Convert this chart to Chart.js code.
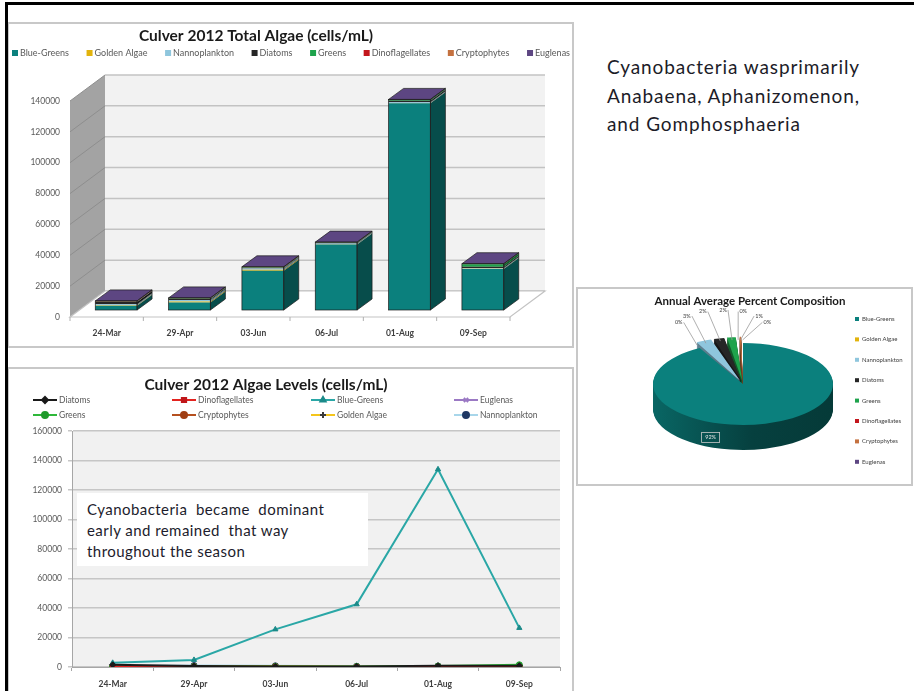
<!DOCTYPE html>
<html>
<head>
<meta charset="utf-8">
<title>Culver 2012 Algae</title>
<script src="https://cdn.jsdelivr.net/npm/chart.js@4.4.1/dist/chart.umd.min.js"></script>
<style>
  html, body { margin: 0; padding: 0; background: #fff; }
  body { position: relative; width: 914px; height: 691px; overflow: hidden; font-family: Lato, "Open Sans", sans-serif; }
  .rule-top { position: absolute; left: 5px; top: 2px; width: 909px; height: 3px; background: #000; }
  .rule-left { position: absolute; left: 5px; top: 2px; width: 3px; height: 689px; background: #000; }
  .panel { position: absolute; box-sizing: border-box; border: 2px solid #c8c8c8; background: #fff; }
  canvas { position: absolute; }
  .note { position: absolute; left: 607px; top: 53px; font-size: 19px; letter-spacing: 0.9px; line-height: 28.5px; color: #1c1c28; white-space: pre; }
  .callout { position: absolute; left: 77px; top: 493px; width: 291px; height: 73px; background: #fff; box-sizing: border-box; padding: 6px 0 0 10px; font-size: 15px; letter-spacing: 0.45px; line-height: 21px; color: #1c1c2c; white-space: pre; }
</style>
</head>
<body>
<div class="panel" style="left:7px; top:22px; width:567px; height:326px;"></div>
<div class="panel" style="left:7px; top:367px; width:567px; height:330px;"></div>
<div class="panel" style="left:576px; top:287px; width:337px; height:199px;"></div>
<canvas id="totalChart" width="563" height="322" style="left:9px; top:24px;"></canvas>
<canvas id="levelsChart" width="563" height="322" style="left:9px; top:369px;"></canvas>
<canvas id="pieChart" width="333" height="230" style="left:578px; top:289px;"></canvas>
<div class="callout">Cyanobacteria  became  dominant
early and remained  that way
throughout the season</div>
<div class="note">Cyanobacteria wasprimarily
Anabaena, Aphanizomenon,
and Gomphosphaeria</div>
<div class="rule-top"></div>
<div class="rule-left"></div>

<script>
// sampling dates
const dates = ['24-Mar', '29-Apr', '03-Jun', '06-Jul', '01-Aug', '09-Sep'];

// cell counts (cells/mL) per group
const blueGreens      = [2800, 4800, 25500, 42500, 134000, 26500];
const goldenAlgae     = [200, 700, 600, 100, 100, 200];
const nannoplankton   = [700, 1000, 800, 500, 600, 500];
const diatoms         = [1500, 600, 400, 400, 900, 900];
const greens          = [200, 300, 300, 300, 600, 1500];
const dinoflagellates = [100, 50, 0, 0, 0, 0];
const cryptophytes    = [400, 400, 400, 200, 300, 400];
const euglenas        = [0, 0, 0, 0, 0, 0];

// annual average percent composition
const pieGroups  = ['Blue-Greens', 'Golden Algae', 'Nannoplankton', 'Diatoms', 'Greens', 'Dinoflagellates', 'Cryptophytes', 'Euglenas'];
const piePercent = [92, 0.3, 2.9, 2.1, 1.8, 0.2, 0.6, 0.1];

const totalTicks = { max: 140000, step: 20000 };
const levelTicks = { max: 160000, step: 20000 };

// ---------- helpers ----------
function shade(hex, f) {
  const n = parseInt(hex.slice(1), 16);
  const r = Math.round(((n >> 16) & 255) * f);
  const g = Math.round(((n >> 8) & 255) * f);
  const b = Math.round((n & 255) * f);
  return 'rgb(' + r + ',' + g + ',' + b + ')';
}

function poly(ctx, pts, fill, stroke, lw) {
  ctx.beginPath();
  ctx.moveTo(pts[0][0], pts[0][1]);
  for (let i = 1; i < pts.length; i++) ctx.lineTo(pts[i][0], pts[i][1]);
  ctx.closePath();
  if (fill) { ctx.fillStyle = fill; ctx.fill(); }
  if (stroke) { ctx.strokeStyle = stroke; ctx.lineWidth = lw || 1; ctx.stroke(); }
}

function boxLegend(ctx, names, colors, left, right, y, size, box) {
  ctx.save();
  ctx.font = size + 'px Lato';
  ctx.textBaseline = 'middle';
  const widths = names.map(n => box + 2 + ctx.measureText(n).width);
  const gap = (right - left - widths.reduce((a, b) => a + b, 0)) / (names.length - 1);
  let x = left;
  names.forEach((n, i) => {
    ctx.fillStyle = colors[i];
    ctx.fillRect(x, y - box / 2, box, box);
    ctx.fillStyle = '#595959';
    ctx.fillText(n, x + box + 2, y);
    x += widths[i] + gap;
  });
  ctx.restore();
}

function chartTitle(ctx, text, cx, cy) {
  ctx.save();
  ctx.font = 'bold 15.5px Lato';
  ctx.fillStyle = '#1a1a1a';
  ctx.textAlign = 'center';
  ctx.textBaseline = 'middle';
  ctx.fillText(text, cx, cy);
  ctx.restore();
}

// ---------- stacked 3-D column chart ----------
const barColors = ['#0b807d', '#e2b30c', '#8fc6dd', '#262626', '#1ea34c', '#c3161c', '#c4713f', '#5d4682'];
const barSeries = [blueGreens, goldenAlgae, nannoplankton, diatoms, greens, dinoflagellates, cryptophytes, euglenas];

const WALL_DX = 35, WALL_DY = 26;     // depth of the floor / back wall
const BAR_SHIFT_X = 9.5, BAR_SHIFT_Y = 7;
const BAR_DX = 15, BAR_DY = 11;       // thickness of a column

const bar3d = {
  id: 'bar3d',
  beforeDatasetsDraw(chart) {
    const { ctx, chartArea: a, scales: { y } } = chart;
    ctx.save();
    // side wall
    poly(ctx, [[a.left, a.top], [a.left + WALL_DX, a.top - WALL_DY], [a.left + WALL_DX, a.bottom - WALL_DY], [a.left, a.bottom]], '#a3a3a3');
    // back wall
    ctx.fillStyle = '#f2f2f2';
    ctx.fillRect(a.left + WALL_DX, a.top - WALL_DY, a.right - a.left, a.bottom - a.top);
    y.ticks.forEach(t => {
      const py = y.getPixelForValue(t.value);
      ctx.strokeStyle = '#c3c3c3';
      ctx.lineWidth = 1.5;
      ctx.beginPath();
      ctx.moveTo(a.left + WALL_DX, py - WALL_DY);
      ctx.lineTo(a.right + WALL_DX, py - WALL_DY);
      ctx.stroke();
      ctx.strokeStyle = '#8e8e8e';
      ctx.lineWidth = 1;
      ctx.beginPath();
      ctx.moveTo(a.left, py);
      ctx.lineTo(a.left + WALL_DX, py - WALL_DY);
      ctx.stroke();
    });
    // floor
    poly(ctx, [[a.left, a.bottom], [a.right, a.bottom], [a.right + WALL_DX, a.bottom - WALL_DY], [a.left + WALL_DX, a.bottom - WALL_DY]], '#ffffff', '#c3c3c3', 1.2);
    // category separators along the front edge
    const n = chart.data.labels.length;
    ctx.strokeStyle = '#b0b0b0';
    ctx.lineWidth = 1;
    for (let i = 0; i <= n; i++) {
      const px = a.left + i * (a.right - a.left) / n;
      ctx.beginPath();
      ctx.moveTo(px, a.bottom);
      ctx.lineTo(px, a.bottom + 4);
      ctx.stroke();
    }
    ctx.restore();
    // columns stand a little behind the front edge
    ctx.save();
    ctx.translate(BAR_SHIFT_X, -BAR_SHIFT_Y);
  },
  afterDatasetsDraw(chart) {
    const ctx = chart.ctx;
    const metas = chart.data.datasets.map((d, i) => chart.getDatasetMeta(i));
    const n = chart.data.labels.length;
    for (let j = 0; j < n; j++) {
      metas.forEach((m, i) => {
        const b = m.data[j];
        if (Math.abs(b.base - b.y) < 0.01) return;
        const r = b.x + b.width / 2;
        poly(ctx, [[r, b.y], [r + BAR_DX, b.y - BAR_DY], [r + BAR_DX, b.base - BAR_DY], [r, b.base]], shade(barColors[i], 0.6));
      });
      const top = metas[metas.length - 1].data[j];
      const bottom = metas[0].data[j].base;
      const l = top.x - top.width / 2, r = top.x + top.width / 2;
      poly(ctx, [[l, top.y], [r, top.y], [r + BAR_DX, top.y - BAR_DY], [l + BAR_DX, top.y - BAR_DY]], barColors[barColors.length - 1], '#1c1c1c', 0.7);
      ctx.strokeStyle = '#1c1c1c';
      ctx.lineWidth = 0.7;
      ctx.strokeRect(l, top.y, r - l, bottom - top.y);
      poly(ctx, [[r, top.y], [r + BAR_DX, top.y - BAR_DY], [r + BAR_DX, bottom - BAR_DY], [r, bottom]], null, '#1c1c1c', 0.7);
    }
    ctx.restore();
  },
  afterDraw(chart) {
    chartTitle(chart.ctx, 'Culver 2012 Total Algae (cells/mL)', 247, 12);
    boxLegend(chart.ctx, pieGroups, barColors, 3, 561, 29, 9, 6);
  }
};

new Chart(document.getElementById('totalChart'), {
  type: 'bar',
  data: {
    labels: dates,
    datasets: barSeries.map((d, i) => ({
      label: pieGroups[i],
      data: d,
      backgroundColor: barColors[i],
      borderWidth: 0,
      barPercentage: 0.57,
      categoryPercentage: 1,
      clip: false
    }))
  },
  options: {
    responsive: false,
    animation: false,
    layout: { padding: { left: 0, right: 62, top: 77, bottom: 0 } },
    plugins: {
      legend: { display: false },
      tooltip: { enabled: false },
      title: { display: false }
    },
    scales: {
      x: {
        stacked: true,
        grid: { display: false, drawTicks: false },
        border: { display: false },
        ticks: { color: '#404040', font: { family: 'Lato', size: 8.5, weight: 'bold' }, padding: 11 },
        afterFit(s) { s.height = 29; }
      },
      y: {
        stacked: true,
        min: 0,
        max: totalTicks.max,
        grid: { display: false, drawTicks: false },
        border: { display: false },
        ticks: { stepSize: totalTicks.step, color: '#595959', font: { family: 'Lato', size: 8.5 }, padding: 10, callback: v => String(v) },
        afterFit(s) { s.width = 61; }
      }
    }
  },
  plugins: [bar3d]
});

// ---------- line chart ----------
const lineSeries = [
  { label: 'Diatoms',         data: diatoms,         color: '#1a1a1a', marker: '#1a1a1a', point: 'rectRot' },
  { label: 'Dinoflagellates', data: dinoflagellates, color: '#e3231f', marker: '#c0161a', point: 'rect' },
  { label: 'Blue-Greens',     data: blueGreens,      color: '#2aa7a6', marker: '#1b8a89', point: 'triangle' },
  { label: 'Euglenas',        data: euglenas,        color: '#9b79c4', marker: '#9b79c4', point: 'crossRot' },
  { label: 'Greens',          data: greens,          color: '#2fb83a', marker: '#1f9a2b', point: 'circle' },
  { label: 'Cryptophytes',    data: cryptophytes,    color: '#b5501f', marker: '#a03f14', point: 'circle' },
  { label: 'Golden Algae',    data: goldenAlgae,     color: '#f4c51c', marker: '#3a3a3a', point: 'cross' },
  { label: 'Nannoplankton',   data: nannoplankton,   color: '#a8d6ea', marker: '#1f3864', point: 'circle' }
];

const LEGEND_COLS = [24, 163, 302, 445];
const LEGEND_ROWS = [31, 46];

const linePlot = {
  id: 'linePlot',
  beforeDraw(chart) {
    const { ctx, chartArea: a } = chart;
    ctx.save();
    ctx.fillStyle = '#f1f1f1';
    ctx.fillRect(a.left, a.top, a.right - a.left, a.bottom - a.top);
    ctx.restore();
  },
  afterDraw(chart) {
    const ctx = chart.ctx;
    chartTitle(ctx, 'Culver 2012 Algae Levels (cells/mL)', 257, 16);
    ctx.save();
    ctx.font = '8.5px Lato';
    ctx.textBaseline = 'middle';
    chart.data.datasets.forEach((ds, i) => {
      const x = LEGEND_COLS[i % 4], y = LEGEND_ROWS[Math.floor(i / 4)];
      ctx.strokeStyle = ds.borderColor;
      ctx.lineWidth = 2;
      ctx.beginPath();
      ctx.moveTo(x, y);
      ctx.lineTo(x + 24, y);
      ctx.stroke();
      ctx.fillStyle = ds.pointBackgroundColor;
      ctx.strokeStyle = ds.pointBorderColor;
      Chart.helpers.drawPoint(ctx, { pointStyle: ds.pointStyle, radius: 3, rotation: 0, borderWidth: 1 }, x + 12, y);
      ctx.fillStyle = '#595959';
      ctx.fillText(ds.label, x + 26, y);
    });
    ctx.restore();
  }
};

new Chart(document.getElementById('levelsChart'), {
  type: 'line',
  data: {
    labels: dates,
    datasets: lineSeries.map(s => ({
      label: s.label,
      data: s.data,
      borderColor: s.color,
      backgroundColor: s.color,
      borderWidth: 2,
      pointStyle: s.point,
      pointRadius: 3,
      pointBackgroundColor: s.marker,
      pointBorderColor: s.marker,
      pointBorderWidth: 1,
      tension: 0
    }))
  },
  options: {
    responsive: false,
    animation: false,
    layout: { padding: { left: 0, right: 12, top: 62, bottom: 0 } },
    plugins: {
      legend: { display: false },
      tooltip: { enabled: false },
      title: { display: false }
    },
    scales: {
      x: {
        offset: true,
        grid: { offset: true, drawOnChartArea: false, tickLength: 4, color: '#a6a6a6' },
        border: { display: true, color: '#a6a6a6' },
        ticks: { color: '#404040', font: { family: 'Lato', size: 8.5, weight: 'bold' }, padding: 8 },
        afterFit(s) { s.height = 24; }
      },
      y: {
        min: 0,
        max: levelTicks.max,
        grid: { color: '#c6c6c6', lineWidth: 1.5, tickLength: 4 },
        border: { display: true, color: '#a6a6a6' },
        ticks: { stepSize: levelTicks.step, color: '#595959', font: { family: 'Lato', size: 8.5 }, padding: 6, callback: v => String(v) },
        afterFit(s) { s.width = 63; }
      }
    }
  },
  plugins: [linePlot]
});

// ---------- tilted pie ----------
const pieColors = ['#0b807d', '#e2b30c', '#8fc6dd', '#262626', '#1ea34c', '#c3161c', '#c4713f', '#5d4682'];
const PIE_TILT = 0.455;
const PIE_DEPTH = 25;
const PIE_CX = 165, PIE_CY = 95;

function pieToCanvas(chart, ux, uy) {
  const a = chart.getDatasetMeta(0).data[0];
  return [PIE_CX + (ux - a.x), PIE_CY + (uy - a.y) * PIE_TILT];
}

const pie3d = {
  id: 'pie3d',
  beforeDatasetsDraw(chart) {
    const ctx = chart.ctx;
    const arcs = chart.getDatasetMeta(0).data;
    const { x: cx, y: cy, outerRadius: r } = arcs[0];
    ctx.save();
    ctx.translate(PIE_CX, PIE_CY);
    ctx.scale(1, PIE_TILT);
    ctx.translate(-cx, -cy);
    const sides = pieColors.map(c => {
      const g = ctx.createLinearGradient(cx - r, 0, cx + r, 0);
      g.addColorStop(0, shade(c, 0.8));
      g.addColorStop(0.55, shade(c, 0.5));
      g.addColorStop(1, shade(c, 0.45));
      return g;
    });
    for (let d = PIE_DEPTH; d >= 1; d--) {
      arcs.forEach((arc, i) => {
        const o = arc.options;
        const face = Object.create(arc);
        face.options = {
          offset: o.offset, spacing: o.spacing, circular: o.circular, borderAlign: o.borderAlign,
          borderRadius: o.borderRadius, borderWidth: 0, borderColor: o.borderColor,
          backgroundColor: sides[i]
        };
        ctx.save();
        ctx.translate(0, d / PIE_TILT);
        face.draw(ctx);
        ctx.restore();
      });
    }
  },
  afterDatasetsDraw(chart) {
    const ctx = chart.ctx;
    ctx.restore();
    const arcs = chart.getDatasetMeta(0).data;
    const { x: cx, y: cy, outerRadius: r } = arcs[0];
    ctx.save();
    ctx.font = '5.5px Lato';
    ctx.textAlign = 'center';
    ctx.textBaseline = 'middle';
    // main slice label on the front rim
    const [bx, by] = [PIE_CX - 0.36 * r, PIE_CY + r * PIE_TILT + PIE_DEPTH / 2];
    ctx.strokeStyle = '#c8c8c8';
    ctx.lineWidth = 0.8;
    ctx.strokeRect(bx - 9, by - 5, 18, 10);
    ctx.fillStyle = '#e6e6e6';
    ctx.fillText(Math.round(piePercent[0]) + '%', bx, by);
    // small slices, labels fanned above the gap
    const small = arcs.length - 1;
    for (let k = 0; k < small; k++) {
      const arc = arcs[k + 1];
      const mid = (arc.startAngle + arc.endAngle) / 2;
      const off = arc.options.offset / 4;
      const [ax, ay] = pieToCanvas(chart, cx + Math.cos(mid) * (r + off), cy + Math.sin(mid) * (r + off));
      const t = (-170 + k * 160 / (small - 1)) * Math.PI / 180;
      const lx = PIE_CX - 20 + 45 * Math.cos(t), ly = 36 + 15 * Math.sin(t);
      ctx.strokeStyle = '#9a9a9a';
      ctx.lineWidth = 0.8;
      ctx.beginPath();
      ctx.moveTo(lx + (k < small / 2 ? 5 : -5), ly);
      ctx.lineTo(ax, ay);
      ctx.stroke();
      ctx.fillStyle = '#404040';
      ctx.fillText(Math.round(piePercent[k + 1]) + '%', lx, ly);
    }
    ctx.restore();
  },
  afterDraw(chart) {
    const ctx = chart.ctx;
    ctx.save();
    ctx.font = '6px Lato';
    ctx.textBaseline = 'middle';
    pieGroups.forEach((g, i) => {
      const y = 30 + i * 20.4;
      ctx.fillStyle = pieColors[i];
      ctx.fillRect(277, y - 2, 4, 4);
      ctx.fillStyle = '#404040';
      ctx.fillText(g, 284, y);
    });
    ctx.restore();
  }
};

new Chart(document.getElementById('pieChart'), {
  type: 'pie',
  data: {
    labels: pieGroups,
    datasets: [{
      data: piePercent,
      backgroundColor: pieColors,
      borderWidth: 0,
      radius: 90,
      offset: piePercent.map((v, i) => (i === 0 ? 0 : 28)),
      clip: false
    }]
  },
  options: {
    responsive: false,
    animation: false,
    layout: { padding: { left: 20, right: 9, top: 0, bottom: 10 } },
    plugins: {
      legend: { display: false },
      tooltip: { enabled: false },
      title: {
        display: true,
        text: 'Annual Average Percent Composition',
        color: '#1a1a1a',
        font: { family: 'Lato', size: 11.5, weight: 'bold' },
        padding: { top: 5, bottom: 4 }
      }
    }
  },
  plugins: [pie3d]
});
</script>
</body>
</html>
